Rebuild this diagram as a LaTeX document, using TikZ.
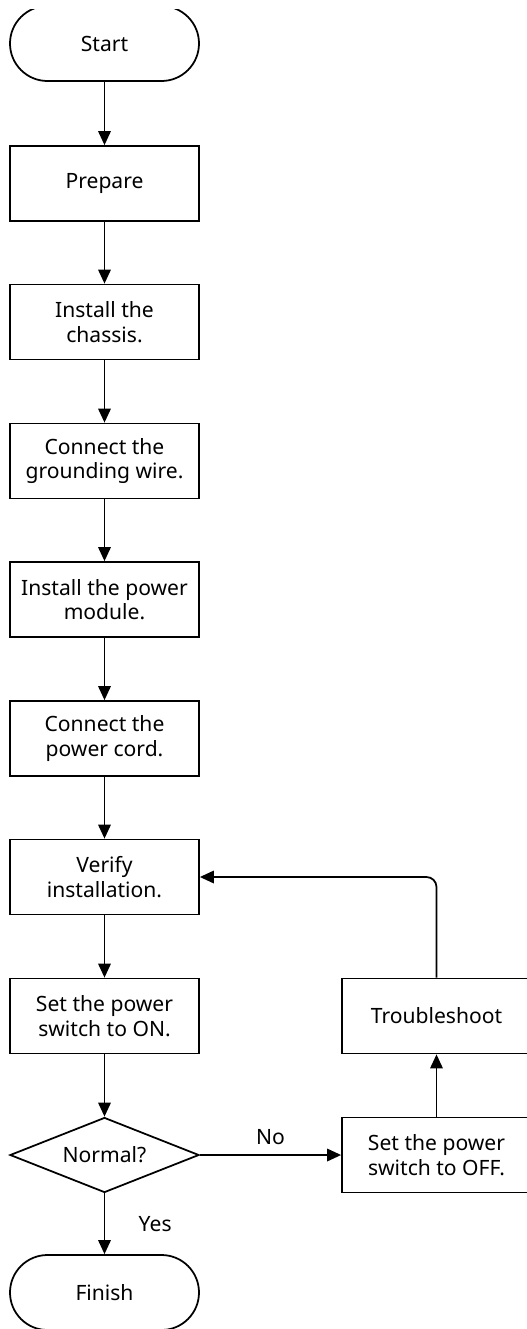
\documentclass[tikz,border=0pt]{standalone}
\usepackage{fontspec}
\setmainfont{Noto Sans}
\usepackage{tikz}
\usetikzlibrary{shapes.geometric}
\usetikzlibrary{arrows.meta}

\begin{document}
\begin{tikzpicture}[
        font=\fontsize{12}{14}\selectfont,
        line width=1pt,
        >={Triangle[length=0.28cm, width=0.25cm]},
        stepbox/.style={draw, minimum width=3.78cm, minimum height=1.5cm, align=center, inner sep=0pt},
        termbox/.style={stepbox, rounded corners=0.75cm},
        choice/.style={draw, diamond, aspect=2.5, minimum width=3.78cm, minimum height=1.5cm, inner sep=0pt}
    ]
                \useasboundingbox (0,0) rectangle (10.54,-26.58);
                \clip (0,-0.18) rectangle (10.54,-26.58);

                % Main column
                \node[termbox] (start) at (2.09, -0.87) {Start};
                \node[stepbox] (prep) at (2.09, -3.67) {Prepare};
                \node[stepbox] (chassis) at (2.09, -6.44) {Install the\\chassis.};
                \node[stepbox] (ground) at (2.09, -9.22) {Connect the\\grounding wire.};
                \node[stepbox] (module) at (2.09, -11.99) {Install the power\\module.};
                \node[stepbox] (cord) at (2.09, -14.77) {Connect the\\power cord.};
                \node[stepbox] (verify) at (2.09, -17.54) {Verify\\installation.};
                \node[stepbox] (on) at (2.09, -20.32) {Set the power\\switch to ON.};
                \node[choice] (normal) at (2.09, -23.10) {Normal?};
                \node[termbox] (finish) at (2.09, -25.85) {Finish};

                % Failure branch
                \node[stepbox] (off) at (8.73, -23.10) {Set the power\\switch to OFF.};
                \node[stepbox] (trouble) at (8.73, -20.32) {Troubleshoot};

                \draw[->] (start) -- (prep);
                \draw[->] (prep) -- (chassis);
                \draw[->] (chassis) -- (ground);
                \draw[->] (ground) -- (module);
                \draw[->] (module) -- (cord);
                \draw[->] (cord) -- (verify);
                \draw[->] (verify) -- (on);
                \draw[->] (on) -- (normal);
                \draw[->] (normal) -- node[midway, right=0.55cm] {Yes} (finish);
                \draw[->] (normal) -- node[midway, above=2pt] {No} (off);
                \draw[->] (off) -- (trouble);
                \draw[->, rounded corners=0.2cm] (trouble.north) |- (verify.east); % back to check
\end{tikzpicture}
\end{document}
